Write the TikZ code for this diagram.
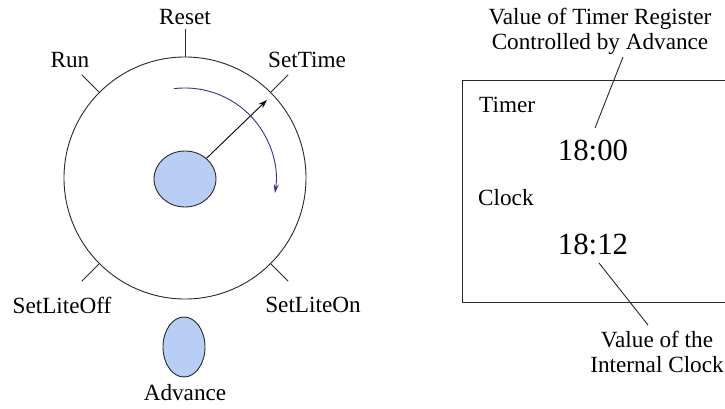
\documentclass[tikz,border=0pt]{standalone}
\usepackage{fontspec}
\setmainfont{Liberation Serif}
\usetikzlibrary{arrows.meta,calc,shapes.geometric}
\definecolor{knob}{RGB}{184,206,244}
\definecolor{arcblue}{RGB}{50,50,150}
\definecolor{ink}{RGB}{40,40,40}
\begin{document}
\begin{tikzpicture}[x=1pt,y=1pt,
  lbl/.style={inner sep=0pt,font=\fontsize{23.2}{25}\selectfont,align=center,text=black},
  big/.style={inner sep=0pt,font=\fontsize{30.8}{32}\selectfont,text=black},
  lineink/.style={draw=ink,line width=0.9pt},
  knobshape/.style={ellipse,draw=ink,line width=0.9pt,fill=knob,inner sep=0pt}]
\useasboundingbox (0,0) rectangle (725,408);
% dial
\coordinate (c) at (185,230);
\node[circle,lineink,minimum size=242pt,inner sep=0pt] (dial) at (c) {};
\node[knobshape,minimum width=62pt,minimum height=56pt] (hub) at (185,229) {};
% ticks
\draw[lineink] (dial.north) -- ++(0,28);
\draw[lineink] (dial.45) -- ($(c)+(45:146pt)$);
\draw[lineink] (dial.135) -- ($(c)+(135:146pt)$);
\draw[lineink] (dial.225) -- ($(c)+(225:146pt)$);
\draw[lineink] (dial.315) -- ($(c)+(315:146pt)$);
% labels
\node[lbl] (reset) at (185,391) {Reset};
\node[lbl] (run) at (70,348) {Run};
\node[lbl] (settime) at (307,348) {SetTime};
\node[lbl] (setliteoff) at (62,103) {SetLiteOff};
\node[lbl] (setliteon) at (313,103) {SetLiteOn};
% pointer
\coordinate (tip) at (267,308);
\draw[draw=black,line width=0.9pt,-{Stealth[length=9pt,width=6pt]}] (hub) -- (tip);
% rotation arc
\draw[draw=arcblue,line width=0.9pt,-{Stealth[length=9pt,width=5pt]}] ($(185,229)+(97:91pt)$) arc[start angle=97,end angle=-9,radius=91pt];
% advance button
\node[knobshape,minimum width=42pt,minimum height=60pt] (adv) at (184,61) {};
\node[lbl] (advlbl) at (185,15) {Advance};
% display panel
\draw[lineink] (728,328) -- (462,328) -- (462,106) -- (728,106);
\node[lbl,anchor=west] (timer) at (479,303) {Timer};
\node[lbl,anchor=west] (clock) at (478,210) {Clock};
\node[big] (t1) at (593,258) {18:00};
\node[big] (t2) at (593,164) {18:12};
\node[lbl] (vtimer) at (600,377) {Value of Timer Register\\Controlled by Advance};
\node[lbl] (vclock) at (657,56) {Value of the\\Internal Clock};
\coordinate (a1) at (623,351);
\coordinate (a2) at (595,280);
\coordinate (b1) at (599,145);
\coordinate (b2) at (648,83);
\draw[lineink] (a1) -- (a2);
\draw[lineink] (b1) -- (b2);
\end{tikzpicture}
\end{document}
